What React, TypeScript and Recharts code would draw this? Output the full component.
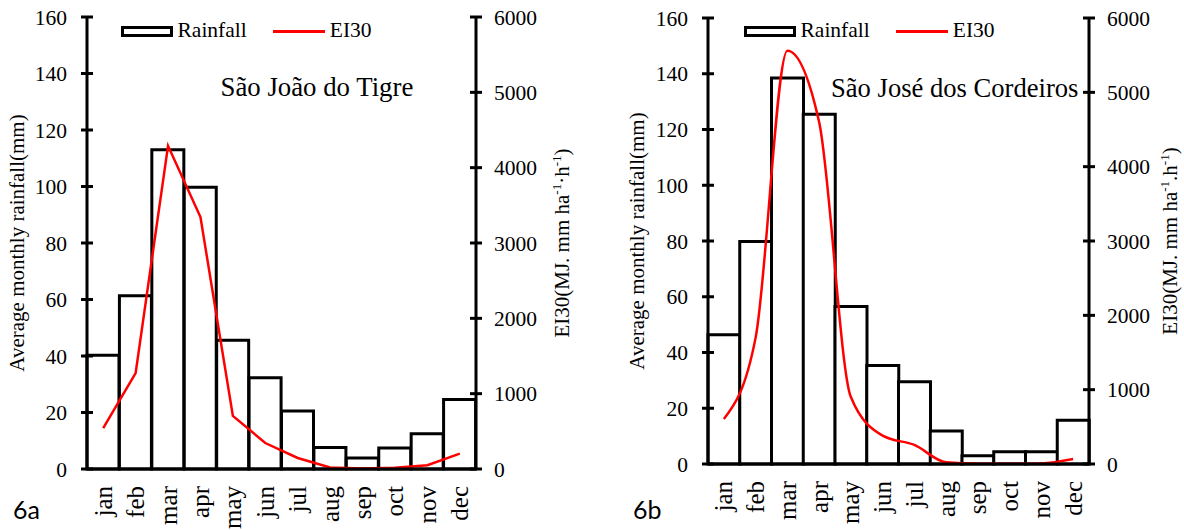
import { ComposedChart, Bar, Line, XAxis, YAxis, Legend, Label } from "recharts";

const months = ["jan", "feb", "mar", "apr", "may", "jun", "jul", "aug", "sep", "oct", "nov", "dec"];

// 6a - São João do Tigre
const rainTigre = [40.3, 61.3, 113, 99.7, 45.6, 32.3, 20.5, 7.6, 3.9, 7.4, 12.5, 24.6];
const ei30Tigre = [544, 1273, 4290, 3344, 705, 345, 146, 21, 5, 18, 50, 205];

// 6b - São José dos Cordeiros
const rainCordeiros = [46.4, 79.8, 138.5, 125.5, 56.5, 35.3, 29.5, 11.8, 3, 4.4, 4.4, 15.7];
const ei30Cordeiros = [606, 1700, 5560, 4600, 900, 381, 256, 22, 2, 2, 8, 67];

const rainTicks = [0, 20, 40, 60, 80, 100, 120, 140, 160];
const eiTicks = [0, 1000, 2000, 3000, 4000, 5000, 6000];

const FONT = '"Liberation Serif", "Times New Roman", serif';

const LeftTick = ({ x, y, payload }: any) => (
  <g>
    <line x1={x - 6} x2={x + 6} y1={y} y2={y} stroke="#000" strokeWidth={3} />
    <text x={x - 20} y={y + 7.5} textAnchor="end" fontFamily={FONT} fontSize={21.5} fill="#000">
      {payload.value}
    </text>
  </g>
);

const RightTick = ({ x, y, payload }: any) => (
  <g>
    <line x1={x - 6} x2={x + 6} y1={y} y2={y} stroke="#000" strokeWidth={3} />
    <text x={x + 18} y={y + 7.5} textAnchor="start" fontFamily={FONT} fontSize={21.5} fill="#000">
      {payload.value}
    </text>
  </g>
);

const MonthTick = ({ x, y, payload }: any) => (
  <text
    transform={`translate(${x + 8.5},${y + 17}) rotate(-90)`}
    textAnchor="end"
    fontFamily={FONT}
    fontSize={25}
    fill="#000"
  >
    {payload.value}
  </text>
);

const rainTitle = (dx: number) => (props: any) => {
  const vb = props.viewBox;
  const cy = vb.y + vb.height / 2;
  return (
    <text
      transform={`translate(${vb.x + dx},${cy}) rotate(-90)`}
      textAnchor="middle"
      fontFamily={FONT}
      fontSize={21}
      fill="#000"
    >
      Average monthly rainfall(mm)
    </text>
  );
};

const eiTitle = (dx: number, sep: string) => (props: any) => {
  const vb = props.viewBox;
  const cy = vb.y + vb.height / 2;
  return (
    <text
      transform={`translate(${vb.x + dx},${cy}) rotate(-90)`}
      textAnchor="middle"
      fontFamily={FONT}
      fontSize={21}
      fill="#000"
    >
      EI30(MJ. mm ha
      <tspan fontSize={13} dy={-8}>-1</tspan>
      <tspan dy={8}>{sep}h</tspan>
      <tspan fontSize={13} dy={-8}>-1</tspan>
      <tspan dy={8}>)</tspan>
    </text>
  );
};

const LegendBox = ({ payload }: any) => {
  const items = [...(payload || [])].sort((a: any, b: any) =>
    a.dataKey === "rain" ? -1 : b.dataKey === "rain" ? 1 : 0
  );
  return (
    <div style={{ display: "flex", alignItems: "center", fontFamily: FONT, fontSize: 21.5, lineHeight: "21px", color: "#000", whiteSpace: "nowrap" }}>
      {items.map((e: any) =>
        e.dataKey === "rain" ? (
          <div key="rain" style={{ display: "flex", alignItems: "center" }}>
            <span style={{ width: 52, height: 11, border: "3px solid #000", boxSizing: "border-box", background: "#fff" }} />
            <span style={{ marginLeft: 4.5, position: "relative", top: -1 }}>{e.value}</span>
          </div>
        ) : (
          <div key="ei" style={{ display: "flex", alignItems: "center", marginLeft: 26 }}>
            <span style={{ width: 52, height: 3, background: e.color }} />
            <span style={{ marginLeft: 5, position: "relative", top: -1 }}>{e.value}</span>
          </div>
        )
      )}
    </div>
  );
};

type PanelProps = {
  rain: number[];
  ei30: number[];
  width: number;
  top: number;
  leftW: number;
  rightW: number;
  xH: number;
  legendLeft: number;
  rainDx: number;
  eiDx: number;
  sep: string;
  curve: "linear" | "monotone";
};

function Panel({ rain, ei30, width, top, leftW, rightW, xH, legendLeft, rainDx, eiDx, sep, curve }: PanelProps) {
  const data = months.map((m, i) => ({ m, rain: rain[i], ei: ei30[i] }));
  return (
    <ComposedChart
      width={width}
      height={530}
      data={data}
      margin={{ top, right: 0, bottom: 0, left: 0 }}
      barCategoryGap={0}
      barGap={0}
    >
      <XAxis
        dataKey="m"
        height={xH}
        axisLine={{ stroke: "#000", strokeWidth: 3 }}
        tickLine={false}
        tickSize={0}
        tickMargin={0}
        interval={0}
        tick={<MonthTick />}
      />
      <YAxis
        yAxisId="rain"
        orientation="left"
        width={leftW}
        domain={[0, 160]}
        ticks={rainTicks}
        interval={0}
        axisLine={{ stroke: "#000", strokeWidth: 3 }}
        tickLine={false}
        tickSize={0}
        tickMargin={0}
        tick={<LeftTick />}
      >
        <Label content={rainTitle(rainDx)} />
      </YAxis>
      <YAxis
        yAxisId="ei"
        orientation="right"
        width={rightW}
        domain={[0, 6000]}
        ticks={eiTicks}
        interval={0}
        axisLine={{ stroke: "#000", strokeWidth: 3 }}
        tickLine={false}
        tickSize={0}
        tickMargin={0}
        tick={<RightTick />}
      >
        <Label content={eiTitle(eiDx, sep)} />
      </YAxis>
      <Legend
        verticalAlign="middle"
        layout="horizontal"
        content={<LegendBox />}
        wrapperStyle={{ position: "absolute", left: legendLeft, top: 21, width: "auto" }}
      />
      <Bar
        yAxisId="rain"
        dataKey="rain"
        name="Rainfall"
        fill="#fff"
        stroke="#000"
        strokeWidth={3}
        legendType="rect"
        isAnimationActive={false}
      />
      <Line
        yAxisId="ei"
        dataKey="ei"
        name="EI30"
        type={curve}
        stroke="#ff0000"
        strokeWidth={2.5}
        dot={false}
        activeDot={false}
        legendType="line"
        isAnimationActive={false}
      />
    </ComposedChart>
  );
}

export default function App() {
  return (
    <div style={{ position: "absolute", left: 0, top: 0, width: 1184, height: 530, background: "#fff", overflow: "hidden" }}>
      <div style={{ position: "absolute", left: 0, top: 0 }}>
        <Panel
          rain={rainTigre}
          ei30={ei30Tigre}
          width={590}
          top={17}
          leftW={87}
          rightW={114}
          xH={61}
          legendLeft={121}
          rainDx={24}
          eiDx={93}
          sep="·"
          curve="linear"
        />
      </div>
      <div style={{ position: "absolute", left: 590, top: 0 }}>
        <Panel
          rain={rainCordeiros}
          ei30={ei30Cordeiros}
          width={594}
          top={18}
          leftW={118}
          rightW={95}
          xH={66}
          legendLeft={154}
          rainDx={54}
          eiDx={88}
          sep="."
          curve="monotone"
        />
      </div>
      <svg width={1184} height={530} style={{ position: "absolute", left: 0, top: 0, pointerEvents: "none" }}>
        <text x={220.5} y={96} fontFamily={FONT} fontSize={26.8} fill="#000">São João do Tigre</text>
        <text x={831} y={97} fontFamily={FONT} fontSize={26.6} fill="#000">São José dos Cordeiros</text>
        <text x={13} y={519} fontFamily="Lato, 'Open Sans', sans-serif" fontSize={25} fill="#000">6a</text>
        <text x={633} y={519} fontFamily="Lato, 'Open Sans', sans-serif" fontSize={25} fill="#000">6b</text>
      </svg>
    </div>
  );
}
